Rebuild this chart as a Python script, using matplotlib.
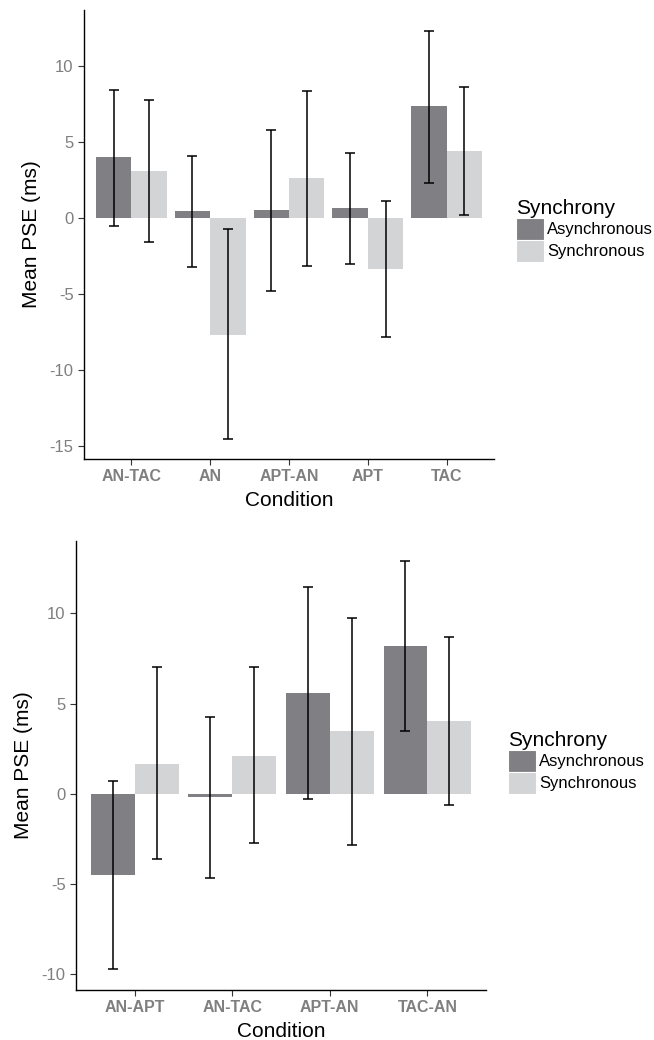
import numpy as np
import matplotlib
matplotlib.use("Agg")
import matplotlib.pyplot as plt
from matplotlib.patches import Patch

plt.rcParams['font.family'] = ['Liberation Sans', 'DejaVu Sans']

groups = ["Asynchronous", "Synchronous"]
colors = ["#808084", "#d3d4d6"]

# top panel
cond_a = ["AN-TAC", "AN", "APT-AN", "APT", "TAC"]
mean_a_async = [4.0, 0.46, 0.53, 0.66, 7.37]
mean_a_sync = [3.09, -7.68, 2.61, -3.33, 4.41]
lo_a_async = [-0.5, -3.22, -4.8, -3.0, 2.3]
hi_a_async = [8.44, 4.12, 5.83, 4.28, 12.35]
lo_a_sync = [-1.6, -14.52, -3.16, -7.83, 0.2]
hi_a_sync = [7.8, -0.72, 8.4, 1.14, 8.6]

# bottom panel
cond_b = ["AN-APT", "AN-TAC", "APT-AN", "TAC-AN"]
mean_b_async = [-4.48, -0.15, 5.57, 8.17]
mean_b_sync = [1.68, 2.12, 3.47, 4.02]
lo_b_async = [-9.72, -4.65, -0.26, 3.49]
hi_b_async = [0.70, 4.26, 11.46, 12.9]
lo_b_sync = [-3.6, -2.73, -2.84, -0.61]
hi_b_sync = [7.03, 7.05, 9.74, 8.67]

W, H = 654, 1040
fig = plt.figure(figsize=(W / 100, H / 100), dpi=100)


def panel(rect, cats, means, los, his, ylim, yticks, legend_xy):
    ax = fig.add_axes(rect)
    x = np.arange(1, len(cats) + 1)
    w = 0.45
    for k, (m, lo, hi) in enumerate(zip(means, los, his)):
        xs = x + (k - 0.5) * w
        ax.bar(xs, m, width=w, color=colors[k], zorder=1)
        m = np.array(m)
        yerr = [m - np.array(lo), np.array(hi) - m]
        ax.errorbar(xs, m, yerr=yerr, fmt='none', ecolor='black',
                    elinewidth=1.1, capsize=3.6, capthick=1.1, zorder=2)
    ax.set_xlim(0.4, len(cats) + 0.6)
    ax.set_ylim(*ylim)
    ax.set_xticks(x)
    ax.set_xticklabels(cats, fontsize=11.5, fontweight='bold', color='#7f7f7f')
    ax.set_yticks(yticks)
    ax.set_yticklabels([str(t) for t in yticks], fontsize=12, color='#7f7f7f')
    ax.tick_params(length=4, width=0.8, color='#333333')
    for s in ['top', 'right']:
        ax.spines[s].set_visible(False)
    for s in ['left', 'bottom']:
        ax.spines[s].set_linewidth(1.0)
    ax.set_xlabel("Condition", fontsize=15, labelpad=5)
    ax.set_ylabel("Mean PSE (ms)", fontsize=15, labelpad=6)
    handles = [Patch(facecolor=c, edgecolor='white', linewidth=0.8) for c in colors]
    fig.legend(handles, groups, loc='upper left',
               bbox_to_anchor=(legend_xy[0] / W, 1 - legend_xy[1] / H),
               frameon=False, fontsize=12, title="Synchrony",
               title_fontsize=15, alignment='left', borderpad=0,
               borderaxespad=0, handlelength=1.65, handleheight=1.65,
               labelspacing=0.0, handletextpad=0.2)
    return ax


panel([84 / W, 1 - 459 / H, (494 - 84) / W, (459 - 10) / H], cond_a,
      [mean_a_async, mean_a_sync], [lo_a_async, lo_a_sync],
      [hi_a_async, hi_a_sync], (-15.86, 13.7), [-15, -10, -5, 0, 5, 10],
      (516, 199))
panel([76 / W, 1 - 990 / H, (486 - 76) / W, (990 - 541) / H], cond_b,
      [mean_b_async, mean_b_sync], [lo_b_async, lo_b_sync],
      [hi_b_async, hi_b_sync], (-10.86, 14.0), [-10, -5, 0, 5, 10],
      (508, 731))

fig.savefig("out.png", dpi=100)
